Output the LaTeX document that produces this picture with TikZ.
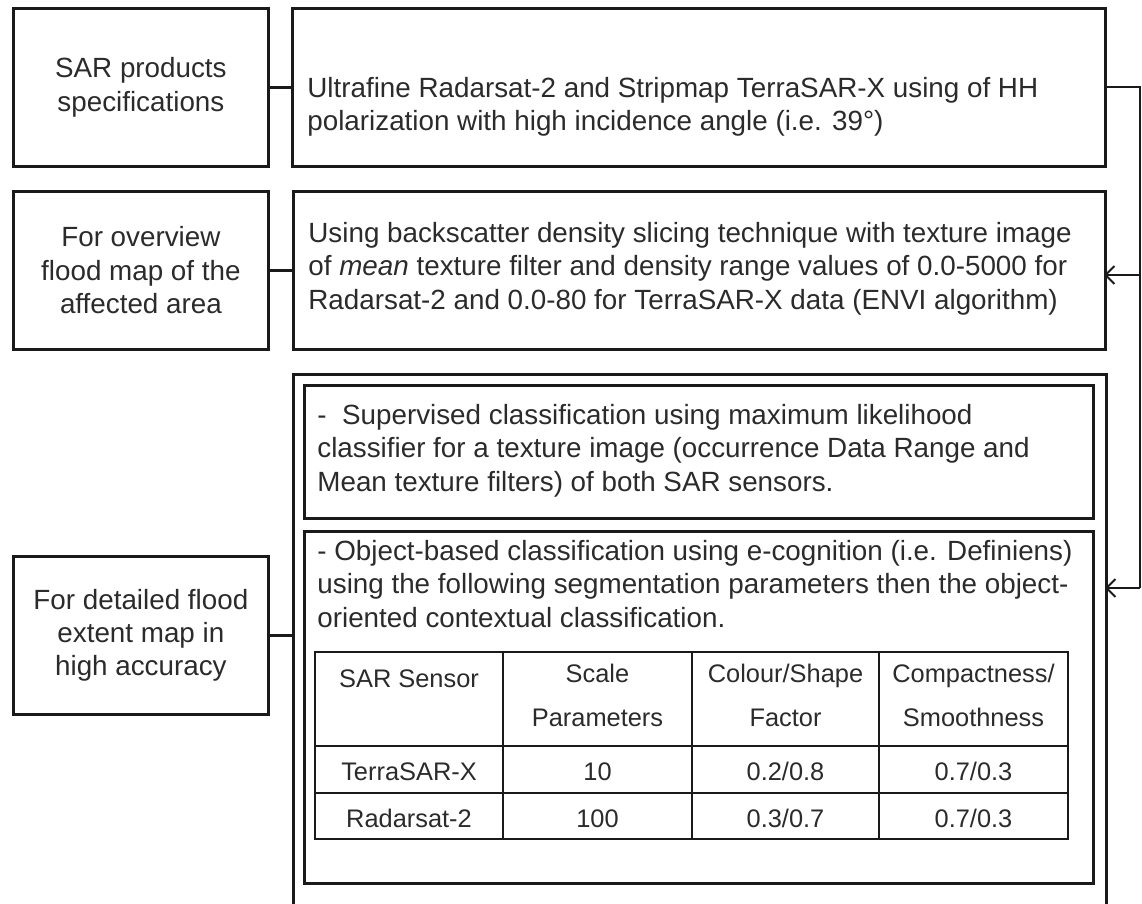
\documentclass[tikz,border=0pt]{standalone}
\usepackage{fontspec}
\setmainfont{Liberation Sans}
\usepackage{tikz}
\usetikzlibrary{arrows.meta}
\definecolor{edge}{HTML}{1A1A1A}
\definecolor{ink}{HTML}{2B2B2B}
\newcommand{\boxfont}{\fontsize{13.9}{16.7}\selectfont}
\newcommand{\cellfont}{\fontsize{12.7}{16.7}\selectfont}
\newcommand{\tabrow}[6]{%
  \node[cell] (#1-a) at (409,#2) {#3};
  \node[cell] (#1-b) at (597.5,#2) {#4};
  \node[cell] (#1-c) at (785.5,#2) {#5};
  \node[cell] (#1-d) at (973.5,#2) {#6};}
\tikzset{
  frame/.style={draw=edge, line width=1.4pt, inner sep=0pt, anchor=north west},
  side/.style={frame, minimum width=127.5pt, minimum height=79pt, align=center, font=\boxfont, text=ink},
  body/.style={anchor=north west, inner sep=0pt, align=left, font=\boxfont, text=ink, execute at begin node=\strut},
  cell/.style={anchor=north, inner sep=0pt, align=center, font=\cellfont, text=ink, execute at begin node=\strut},
  grid/.style={draw=edge, line width=0.9pt},
  link/.style={draw=edge, line width=1.3pt},
  flow/.style={draw=edge, line width=1pt, -{Straight Barb[length=4.5pt,width=9pt]}}
}

\begin{document}
\begin{tikzpicture}[x=0.5pt,y=-0.5pt]
  \useasboundingbox (0,0) rectangle (1142,904);
  \clip (0,0) rectangle (1142,904);
  \node[side] (l1) at (12,7) {SAR products\\specifications};
  \node[side] (l2) at (12,190) {For overview\\flood map of the\\affected area};
  \node[side] (l3) at (12,555) {For detailed flood\\extent map in\\high accuracy};
  \node[frame, minimum width=406.5pt, minimum height=79pt] (r1) at (291,7) {};
  \node[frame, minimum width=406pt, minimum height=79pt] (r2) at (292,190) {};
  \node[frame, minimum width=406.5pt, minimum height=290pt] (outer) at (292,373) {};
  \node[frame, minimum width=394.5pt, minimum height=66.5pt] (inA) at (303,384) {};
  \node[frame, minimum width=394.5pt, minimum height=176pt] (inB) at (303,530) {};
  \node[body] (specs) at (307,77) {Ultrafine Radarsat-2 and Stripmap TerraSAR-X using of HH\\polarization with high incidence angle (i.e. 39°)};
  \node[body] (slicing) at (308,222) {Using backscatter density slicing technique with texture image\\of \textit{mean} texture filter and density range values of 0.0-5000 for\\Radarsat-2 and 0.0-80 for TerraSAR-X data (ENVI algorithm)};
  \node[body] (superv) at (317,404) {-\ \ Supervised classification using maximum likelihood\\classifier for a texture image (occurrence Data Range and\\Mean texture filters) of both SAR sensors.};
  \node[body] (object) at (317,540) {- Object-based classification using e-cognition (i.e. Definiens)\\using the following segmentation parameters then the object-\\oriented contextual classification.};
  \draw[grid] (315,652) rectangle (1068,839);
  \foreach \x in {503,692,879}
    \draw[grid] (\x,652) -- (\x,839);
  \foreach \y in {746,793}
    \draw[grid] (315,\y) -- (1068,\y);
  \node[cell] (hsensor) at (409,664) {SAR Sensor};
  \node[cell] (hscale) at (597.5,664) {Scale\\[5pt]Parameters};
  \node[cell] (hfactor) at (785.5,664) {Colour/Shape\\[5pt]Factor};
  \node[cell] (hcompact) at (973.5,664) {Compactness/\\[5pt]Smoothness};
  \tabrow{tsx}{757}{TerraSAR-X}{10}{0.2/0.8}{0.7/0.3}
  \tabrow{rs2}{804}{Radarsat-2}{100}{0.3/0.7}{0.7/0.3}
  \draw[link] (l1) -- (r1);
  \draw[link] (l2) -- (r2);
  \draw[link] (l3.east) -- (l3.east -| outer.west);
  \coordinate (rail) at (1140,0);
  \coordinate (in2) at (1104,275);
  \coordinate (in3) at (1105,588);
  \draw[link, line width=1pt] (r1.east) -- (r1.east -| rail) -- (rail |- in3);
  \draw[flow] (rail |- in2) -- (in2);
  \draw[flow] (rail |- in3) -- (in3);
\end{tikzpicture}
\end{document}
